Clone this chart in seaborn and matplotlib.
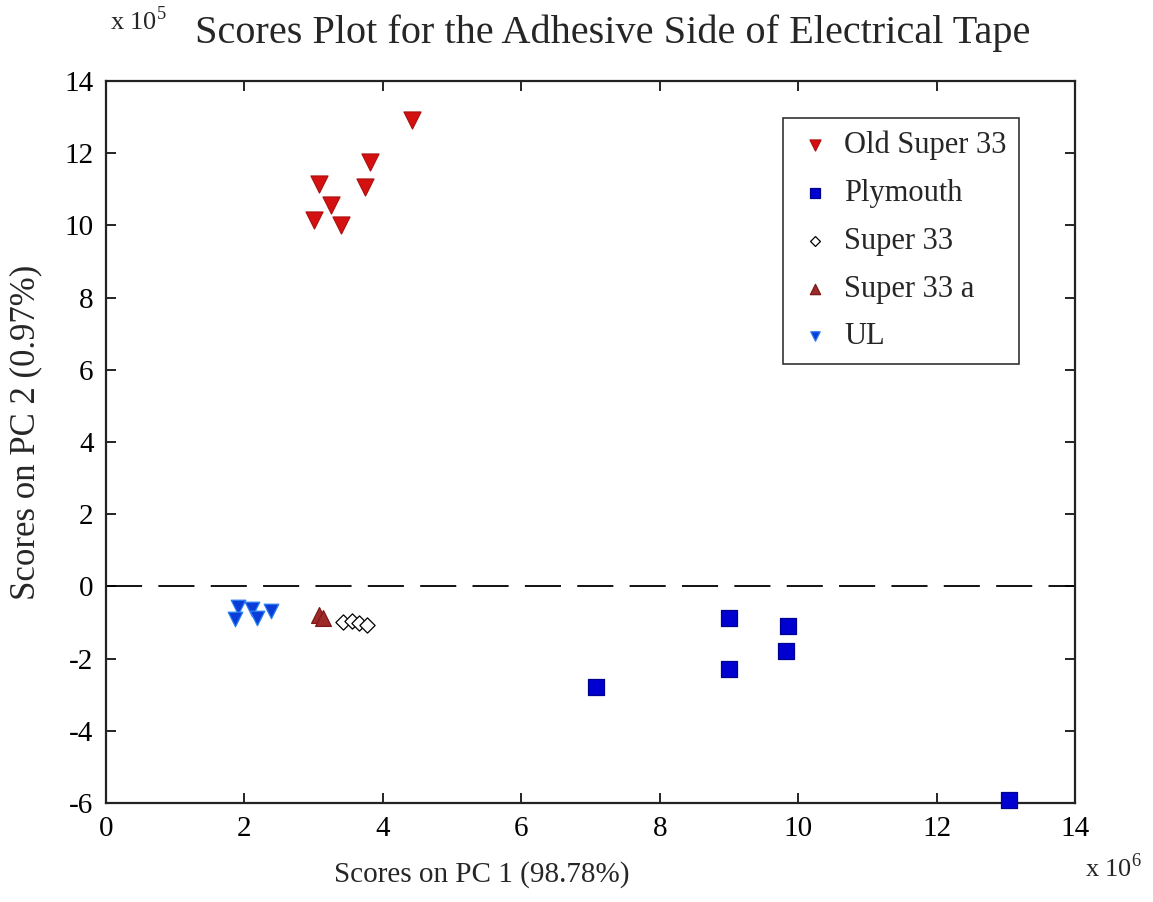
import matplotlib
matplotlib.use("Agg")
import matplotlib.pyplot as plt
import seaborn as sns
import pandas as pd

# ---- data (PC1 in units of 1e6, PC2 in units of 1e5) ----
old_super33_x = [4.42, 3.82, 3.08, 3.74, 3.25, 3.01, 3.40]
old_super33_y = [12.92, 11.76, 11.15, 11.06, 10.56, 10.15, 10.01]

plymouth_x = [9.00, 9.86, 9.83, 9.00, 7.08, 13.04]
plymouth_y = [-0.88, -1.09, -1.78, -2.29, -2.78, -5.92]

super33_x = [3.42, 3.55, 3.65, 3.77]
super33_y = [-0.98, -0.95, -1.00, -1.06]

super33a_x = [3.08, 3.14]
super33a_y = [-0.78, -0.88]

ul_x = [1.91, 1.86, 2.11, 2.18, 2.39]
ul_y = [-0.56, -0.91, -0.63, -0.88, -0.67]

groups = ["Old Super 33", "Plymouth", "Super 33", "Super 33 a", "UL"]
xs = [old_super33_x, plymouth_x, super33_x, super33a_x, ul_x]
ys = [old_super33_y, plymouth_y, super33_y, super33a_y, ul_y]

markers = {"Old Super 33": "v", "Plymouth": "s", "Super 33": "D",
           "Super 33 a": "^", "UL": "v"}
faces = {"Old Super 33": "#d41010", "Plymouth": "#0000d0", "Super 33": "white",
         "Super 33 a": "#9c2a2a", "UL": "#0a3cd8"}
edges = {"Old Super 33": "#b01010", "Plymouth": "#000090", "Super 33": "black",
         "Super 33 a": "#801818", "UL": "#2a7ef0"}
sizes = {"Old Super 33": 150, "Plymouth": 120, "Super 33": 60,
         "Super 33 a": 130, "UL": 110}

rows = []
for g, xx, yy in zip(groups, xs, ys):
    for a, b in zip(xx, yy):
        rows.append({"group": g, "pc1": a, "pc2": b})
df = pd.DataFrame(rows)

sns.set_theme(style="white")
plt.rcParams["font.family"] = ["Liberation Serif", "DejaVu Serif"]
plt.rcParams["mathtext.fontset"] = "custom"
plt.rcParams["mathtext.rm"] = "Liberation Serif"
plt.rcParams["axes.unicode_minus"] = False

fig = plt.figure(figsize=(11.53, 9.02), dpi=100)
ax = fig.add_axes([106/1153, 1 - 803/902, (1075 - 106)/1153, (803 - 81)/902])

for g in groups:
    sub = df[df["group"] == g]
    sns.scatterplot(data=sub, x="pc1", y="pc2", ax=ax, marker=markers[g],
                    color=faces[g], edgecolor=edges[g], linewidth=0.9,
                    s=sizes[g], label=g, clip_on=False, zorder=3)

ax.axhline(0, color="black", lw=1.3, ls=(0, (20, 9)), zorder=1)

ax.set_xlim(0, 14)
ax.set_ylim(-6, 14)
ax.set_xticks(range(0, 15, 2))
ax.set_yticks(range(-6, 15, 2))
ax.tick_params(direction="in", length=7, width=1.2, labelsize=21,
               top=True, right=True, bottom=True, left=True, pad=9,
               colors="black")
for sp in ax.spines.values():
    sp.set_color("#222222")
    sp.set_linewidth(1.6)

ax.set_xlabel("Scores on PC 1 (98.78%)", fontsize=21)
ax.xaxis.set_label_coords((482 - 106) / 969, (803 - 861) / 722)
ax.set_ylabel("Scores on PC 2 (0.97%)", fontsize=25)
ax.yaxis.set_label_coords((42 - 106) / 969, (803 - 432) / 722)
ax.set_title("Scores Plot for the Adhesive Side of Electrical Tape",
             fontsize=29, x=(613 - 106) / 969, pad=27)

fig.text(110/1153, 1 - 30/902, r"x 10$^5$", fontsize=19, ha="left", va="baseline")
fig.text(1085/1153, 1 - 877/902, r"x 10$^6$", fontsize=19, ha="left", va="baseline")

leg = ax.legend(loc="upper left", bbox_to_anchor=((783 - 106) / 969, 1 - 37/722),
                fontsize=22, frameon=True, fancybox=False, edgecolor="black",
                markerscale=0.65, handletextpad=0.3, labelspacing=0.62,
                borderpad=0.4, handlelength=1.3, borderaxespad=0)
leg.get_frame().set_linewidth(1.2)

fig.savefig("out.png", dpi=100, facecolor="white")
